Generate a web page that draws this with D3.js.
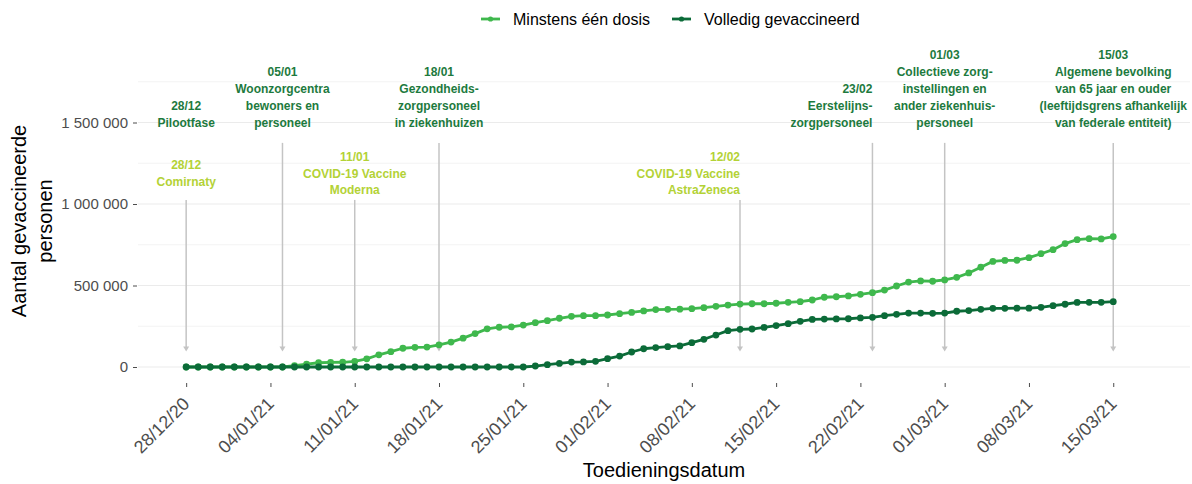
<!DOCTYPE html>
<html>
<head>
<meta charset="utf-8">
<script src="https://cdn.jsdelivr.net/npm/d3@7"></script>
<style>
  body { margin: 0; background: #fff; }
  svg { font-family: "Liberation Sans", Arial, sans-serif; }
</style>
</head>
<body>
<script>
var width = 1192, height = 484;

// series names and colours
var seriesNames = ["Minstens één dosis", "Volledig gevaccineerd"];
var seriesColors = ["#3fb84d", "#0b6b38"];

// daily values, 28/12/20 .. 15/03/21
var firstDay = "2020-12-28", lastDay = "2021-03-15";
var minstensEenDosis = [
    0, 0, 0, 0, 0, 0, 0, 0, 0, 8000,
    17000, 26000, 28000, 29000, 34000, 50000, 75000, 94000, 115000, 121000,
    122000, 136000, 153000, 177000, 205000, 234000, 244000, 246000, 257000, 272000,
    284000, 299000, 311000, 315000, 315000, 319000, 327000, 335000, 344000, 352000,
    354000, 355000, 358000, 364000, 372000, 380000, 386000, 388000, 388000, 391000,
    397000, 401000, 411000, 428000, 431000, 436000, 446000, 456000, 472000, 497000,
    521000, 528000, 526000, 534000, 550000, 577000, 612000, 648000, 654000, 655000,
    671000, 695000, 720000, 757000, 781000, 787000, 786000, 800000
];
var volledigGevaccineerd = [
    0, 0, 0, 0, 0, 0, 0, 0, 0, 0,
    0, 0, 0, 0, 0, 0, 0, 0, 0, 0,
    0, 0, 0, 0, 0, 0, 0, 0, 0, 6000,
    14000, 22000, 30000, 31000, 35000, 51000, 67000, 92000, 112000, 119000,
    125000, 129000, 149000, 170000, 196000, 223000, 231000, 233000, 243000, 254000,
    266000, 280000, 292000, 294000, 295000, 296000, 301000, 305000, 315000, 323000,
    331000, 331000, 329000, 331000, 342000, 346000, 354000, 360000, 360000, 361000,
    361000, 366000, 376000, 385000, 396000, 397000, 397000, 401000
];

// axis ticks
var xTickDates = ["2020-12-28", "2021-01-04", "2021-01-11", "2021-01-18", "2021-01-25", "2021-02-01",
                  "2021-02-08", "2021-02-15", "2021-02-22", "2021-03-01", "2021-03-08", "2021-03-15"];
var yTickValues = [0, 500000, 1000000, 1500000];
var yMinorValues = [250000, 750000, 1250000, 1750000];

// phases (dark) and vaccines (light)
var phaseDates = ["2020-12-28", "2021-01-05", "2021-01-18", "2021-02-23", "2021-03-01", "2021-03-15"];
var phaseLabels = [
    ["28/12", "Pilootfase"],
    ["05/01", "Woonzorgcentra", "bewoners en", "personeel"],
    ["18/01", "Gezondheids-", "zorgpersoneel", "in ziekenhuizen"],
    ["23/02", "Eerstelijns-", "zorgpersoneel"],
    ["01/03", "Collectieve zorg-", "instellingen en", "ander ziekenhuis-", "personeel"],
    ["15/03", "Algemene bevolking", "van 65 jaar en ouder", "(leeftijdsgrens afhankelijk", "van federale entiteit)"]
];
var vaccineDates = ["2020-12-28", "2021-01-11", "2021-02-12"];
var vaccineLabels = [
    ["28/12", "Comirnaty"],
    ["11/01", "COVID-19 Vaccine", "Moderna"],
    ["12/02", "COVID-19 Vaccine", "AstraZeneca"]
];

var parseDate = d3.timeParse("%Y-%m-%d");
var days = d3.timeDay.range(parseDate(firstDay), d3.timeDay.offset(parseDate(lastDay), 1));

var svg = d3.select("body").append("svg")
    .attr("width", width)
    .attr("height", height);

var xScale = d3.scaleTime()
    .domain([new Date(2020, 11, 24), new Date(2021, 2, 21, 9)])
    .range([138, 1190]);
var yScale = d3.scaleLinear()
    .domain([0, 1500000])
    .range([367, 122.5]);

// grid
svg.append("g").selectAll("line")
    .data(yMinorValues)
    .enter().append("line")
    .attr("x1", 138).attr("x2", 1190)
    .attr("y1", function(d) { return yScale(d); })
    .attr("y2", function(d) { return yScale(d); })
    .style("stroke", "#f3f3f3")
    .style("stroke-width", 1);
svg.append("g").selectAll("line")
    .data(yTickValues)
    .enter().append("line")
    .attr("x1", 138).attr("x2", 1190)
    .attr("y1", function(d) { return yScale(d); })
    .attr("y2", function(d) { return yScale(d); })
    .style("stroke", "#ebebeb")
    .style("stroke-width", 1.2);

// y axis
var spaceFormat = d3.formatLocale({decimal: ",", thousands: " ", grouping: [3], currency: ["", ""]}).format(",d");
var yAxis = svg.append("g")
    .attr("transform", "translate(137,0)")
    .call(d3.axisLeft(yScale).tickValues(yTickValues).tickFormat(spaceFormat).tickSize(4).tickPadding(5));
yAxis.select(".domain").remove();
yAxis.selectAll("line").style("stroke", "#4d4d4d");
yAxis.selectAll("text")
    .style("font-family", "Liberation Sans, Arial, sans-serif")
    .style("font-size", "15px")
    .style("fill", "#4d4d4d");

// x axis
var xAxis = svg.append("g")
    .attr("transform", "translate(0,383)")
    .call(d3.axisBottom(xScale)
        .tickValues(xTickDates.map(parseDate))
        .tickFormat(d3.timeFormat("%d/%m/%y"))
        .tickSize(4));
xAxis.select(".domain").remove();
xAxis.selectAll("line").style("stroke", "#4d4d4d");
xAxis.selectAll("text")
    .attr("y", null)
    .attr("dy", "0.71em")
    .attr("text-anchor", "end")
    .attr("transform", "translate(-5,13)rotate(-45)")
    .style("font-family", "Liberation Sans, Arial, sans-serif")
    .style("font-size", "18px")
    .style("fill", "#4d4d4d");

// axis titles
svg.append("text")
    .attr("x", 664)
    .attr("y", 477)
    .attr("text-anchor", "middle")
    .style("font-size", "20px")
    .style("fill", "#000")
    .text("Toedieningsdatum");

var yTitle = svg.append("text")
    .attr("transform", "translate(0,221)rotate(-90)")
    .attr("text-anchor", "middle")
    .style("font-size", "20px")
    .style("fill", "#000");
yTitle.append("tspan").attr("x", 0).attr("y", 26).text("Aantal gevaccineerde");
yTitle.append("tspan").attr("x", 0).attr("y", 52).text("personen");

// annotation arrows
var arrowColor = "#c4c4c4";
function addArrow(dateStr, topValue) {
    var xx = xScale(parseDate(dateStr));
    var y0 = yScale(topValue), y1 = yScale(95000);
    svg.append("line")
        .attr("x1", xx).attr("x2", xx)
        .attr("y1", y0).attr("y2", y1 - 4)
        .style("stroke", arrowColor)
        .style("stroke-width", 1.5);
    svg.append("path")
        .attr("d", "M" + (xx - 3) + "," + (y1 - 5) + "L" + (xx + 3) + "," + (y1 - 5) + "L" + xx + "," + y1 + "Z")
        .style("fill", arrowColor);
}
phaseDates.forEach(function(d, i) {
    if (i > 0) addArrow(d, 1375000);
});
vaccineDates.forEach(function(d) {
    addArrow(d, 1025000);
});

// annotation texts
function addLabel(dateStr, lines, color, anchor, firstY) {
    var t = svg.append("text")
        .attr("text-anchor", anchor)
        .style("font-size", "12px")
        .style("font-weight", "bold")
        .style("fill", color);
    var xx = xScale(parseDate(dateStr));
    lines.forEach(function(s, j) {
        t.append("tspan")
            .attr("x", xx)
            .attr("y", firstY + j * 16.8)
            .text(s);
    });
}
phaseDates.forEach(function(d, i) {
    var lines = phaseLabels[i];
    var bottom = yScale(1500000) + 4;
    addLabel(d, lines, "#1d7a3e", i === 3 ? "end" : "middle", bottom - (lines.length - 1) * 16.8);
});
vaccineDates.forEach(function(d, i) {
    var lines = vaccineLabels[i];
    var center = yScale(1190000) + 4.5;
    addLabel(d, lines, "#b3d236", i === 2 ? "end" : "middle", center - (lines.length - 1) * 8.4);
});

// lines and points
var series = [minstensEenDosis, volledigGevaccineerd];
var line = d3.line()
    .x(function(d, i) { return xScale(days[i]); })
    .y(function(d) { return yScale(d); });

series.forEach(function(values, k) {
    svg.append("path")
        .datum(values)
        .attr("d", line)
        .style("fill", "none")
        .style("stroke", seriesColors[k])
        .style("stroke-width", 2.8)
        .style("stroke-linejoin", "round");
    svg.append("g").selectAll("circle")
        .data(values)
        .enter().append("circle")
        .attr("cx", function(d, i) { return xScale(days[i]); })
        .attr("cy", function(d) { return yScale(d); })
        .attr("r", 3.4)
        .style("fill", seriesColors[k]);
});

// legend
var legendX = [481, 672];
var legend = svg.append("g");
seriesNames.forEach(function(name, k) {
    var g = legend.append("g").attr("transform", "translate(" + legendX[k] + ",19)");
    g.append("line")
        .attr("x1", 0).attr("x2", 19)
        .style("stroke", seriesColors[k])
        .style("stroke-width", 2.8);
    g.append("circle")
        .attr("cx", 9.5).attr("r", 2.6)
        .style("fill", seriesColors[k]);
    g.append("text")
        .attr("x", 32)
        .attr("y", 6)
        .style("font-size", "16px")
        .style("fill", "#000")
        .text(name);
});
</script>
</body>
</html>
